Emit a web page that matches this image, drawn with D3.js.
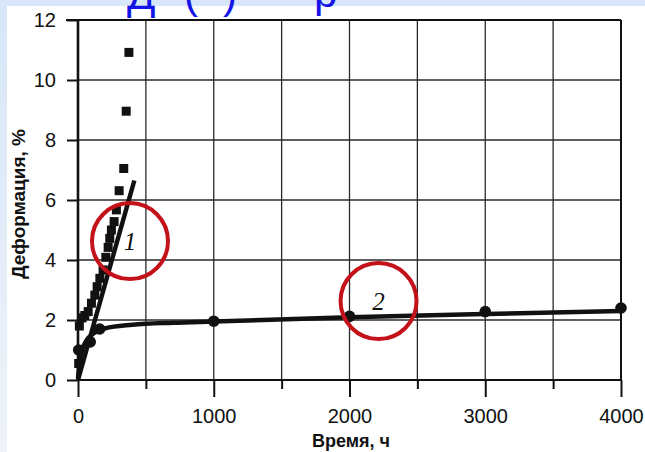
<!DOCTYPE html>
<html>
<head>
<meta charset="utf-8">
<script src="https://cdn.jsdelivr.net/npm/d3@7"></script>
<style>
  html, body { margin: 0; padding: 0; background: #ffffff; }
  svg { display: block; }
</style>
</head>
<body>
<svg id="chart" width="645" height="452"></svg>
<script>
// Creep strain vs. time, two specimens
const xMajorTicks = [0, 1000, 2000, 3000, 4000];
const xMinorTicks = [500, 1500, 2500, 3500];
const yTicks = [0, 2, 4, 6, 8, 10, 12];

// specimen 1: measured points (time h, strain %)
const series1Time   = [5, 10, 30, 50, 75, 99, 124, 141, 161, 185, 205, 222, 234, 246, 266, 283, 303, 337, 355, 375];
const series1Strain = [0.55, 1.8, 2.07, 2.15, 2.28, 2.56, 2.83, 3.11, 3.39, 3.67, 4.09, 4.42, 4.72, 5.0, 5.28, 5.67, 6.31, 7.05, 8.96, 10.92];
// specimen 1: approximating line
const fit1Time   = [0, 415];
const fit1Strain = [0, 6.65];

// specimen 2: measured points
const series2Time   = [5, 90, 160, 1000, 2000, 3000, 4000];
const series2Strain = [1.0, 1.27, 1.7, 1.96, 2.12, 2.28, 2.4];
// specimen 2: approximating curve
const fit2Time   = [0, 20, 60, 120, 200, 400, 700, 1000, 2000, 3000, 4000];
const fit2Strain = [0.05, 0.85, 1.3, 1.57, 1.72, 1.84, 1.91, 1.95, 2.09, 2.2, 2.3];

// curve markers
const markLabels = ["1", "2"];
const markTime   = [383, 2214];
const markStrain = [4.63, 2.63];

const SANS = "'Liberation Sans', Arial, sans-serif";
const SERIF = "'Liberation Serif', 'Times New Roman', serif";

const svg = d3.select("#chart");

// slide background
const defs = svg.append("defs");
const grad = defs.append("linearGradient").attr("id", "edge").attr("x1", 0).attr("y1", 0).attr("x2", 0).attr("y2", 1);
grad.append("stop").attr("offset", "0").attr("stop-color", "#d7e6f8");
grad.append("stop").attr("offset", "1").attr("stop-color", "#eef3f9");
svg.append("rect").attr("x", 0).attr("y", 0).attr("width", 645).attr("height", 452).attr("fill", "url(#edge)");
svg.append("rect").attr("x", 0).attr("y", 0).attr("width", 645).attr("height", 7).attr("fill", "#d7e6f8");
svg.append("rect").attr("x", 7).attr("y", 6).attr("width", 638).attr("height", 446).attr("fill", "#ffffff");

const x = d3.scaleLinear().domain([0, 4000]).range([78, 621]);
const y = d3.scaleLinear().domain([0, 12]).range([380, 20]);

// grid
const grid = svg.append("g");
grid.selectAll("line.v").data(xMinorTicks.concat([1000, 2000, 3000])).join("line")
  .attr("x1", d => x(d)).attr("x2", d => x(d)).attr("y1", y(12)).attr("y2", y(0))
  .attr("stroke", "#2a2a2a").attr("stroke-width", 1.3);
grid.selectAll("line.h").data([2, 4, 6, 8, 10]).join("line")
  .attr("x1", x(0)).attr("x2", x(4000)).attr("y1", d => y(d)).attr("y2", d => y(d))
  .attr("stroke", "#2a2a2a").attr("stroke-width", 1.3);

// frame: top and right
svg.append("line").attr("x1", 66).attr("x2", x(4000)).attr("y1", y(12)).attr("y2", y(12))
  .attr("stroke", "#111").attr("stroke-width", 2.2);
svg.append("line").attr("x1", x(4000)).attr("x2", x(4000)).attr("y1", y(12)).attr("y2", y(0))
  .attr("stroke", "#111").attr("stroke-width", 2);

// axes
const axisFont = 20;
const yAxis = svg.append("g").attr("transform", `translate(${x(0)},0)`)
  .call(d3.axisLeft(y).tickValues(yTicks).tickSize(11).tickPadding(11).tickFormat(d3.format("d")));
const xAxis = svg.append("g").attr("transform", `translate(0,${y(0)})`)
  .call(d3.axisBottom(x).tickValues(xMajorTicks).tickSize(17).tickPadding(12).tickFormat(d3.format("d")));
const xMinor = svg.append("g").attr("transform", `translate(0,${y(0)})`)
  .call(d3.axisBottom(x).tickValues(xMinorTicks).tickSize(9).tickFormat(""));
[yAxis, xAxis, xMinor].forEach(g => {
  g.select(".domain").remove();
  g.selectAll(".tick line").attr("stroke", "#111").attr("stroke-width", 2);
  g.selectAll(".tick text").attr("font-size", axisFont).attr("fill", "#111")
    .attr("font-family", SANS);
});
svg.append("line").attr("x1", x(0)).attr("x2", x(0)).attr("y1", y(12) - 1).attr("y2", y(0))
  .attr("stroke", "#111").attr("stroke-width", 2.6);
svg.append("line").attr("x1", x(0)).attr("x2", x(4000) + 1).attr("y1", y(0)).attr("y2", y(0))
  .attr("stroke", "#111").attr("stroke-width", 2.2);

// axis titles
svg.append("text").attr("x", 351).attr("y", 447).attr("text-anchor", "middle")
  .attr("font-family", SANS).attr("font-size", 18).attr("font-weight", "bold").attr("fill", "#111").text("Время, ч");
svg.append("text").attr("transform", "translate(25,204) rotate(-90)").attr("text-anchor", "middle")
  .attr("font-family", SANS).attr("font-size", 19).attr("font-weight", "bold").attr("fill", "#111").text("Деформация, %");

// fitted lines
const line = d3.line().x(d => x(d[0])).y(d => y(d[1]));
svg.append("path").datum(d3.zip(fit1Time, fit1Strain)).attr("d", line)
  .attr("fill", "none").attr("stroke", "#111").attr("stroke-width", 4.5);
svg.append("path").datum(d3.zip(fit2Time, fit2Strain)).attr("d", line.curve(d3.curveMonotoneX))
  .attr("fill", "none").attr("stroke", "#111").attr("stroke-width", 4.5);

// measured points
const sq = 9;
svg.append("g").selectAll("rect").data(d3.zip(series1Time, series1Strain)).join("rect")
  .attr("x", d => x(d[0]) - sq / 2).attr("y", d => y(d[1]) - sq / 2)
  .attr("width", sq).attr("height", sq).attr("fill", "#111");
svg.append("g").selectAll("circle").data(d3.zip(series2Time, series2Strain)).join("circle")
  .attr("cx", d => x(d[0])).attr("cy", d => y(d[1])).attr("r", 5.8).attr("fill", "#111");

// curve numbers with red rings
const marks = svg.append("g").selectAll("g").data(d3.zip(markLabels, markTime, markStrain)).join("g")
  .attr("transform", d => `translate(${x(d[1])},${y(d[2])})`);
marks.append("text").attr("text-anchor", "middle").attr("dy", "0.36em")
  .attr("font-family", SERIF).attr("font-style", "italic")
  .attr("font-size", 25).attr("fill", "#111").text(d => d[0]);
marks.append("circle").attr("r", 38).attr("fill", "none").attr("stroke", "#c4121a").attr("stroke-width", 4);

// slide heading running above the figure
const head = svg.append("g").attr("fill", "#1414e6").attr("font-size", 42)
  .attr("font-family", SANS);
head.append("text").attr("x", 127).attr("y", 9).text("Д");
head.append("text").attr("x", 184).attr("y", 8).text("(");
head.append("text").attr("x", 223).attr("y", 8).text(")");
head.append("text").attr("x", 314).attr("y", 7).text("р");
</script>
</body>
</html>
